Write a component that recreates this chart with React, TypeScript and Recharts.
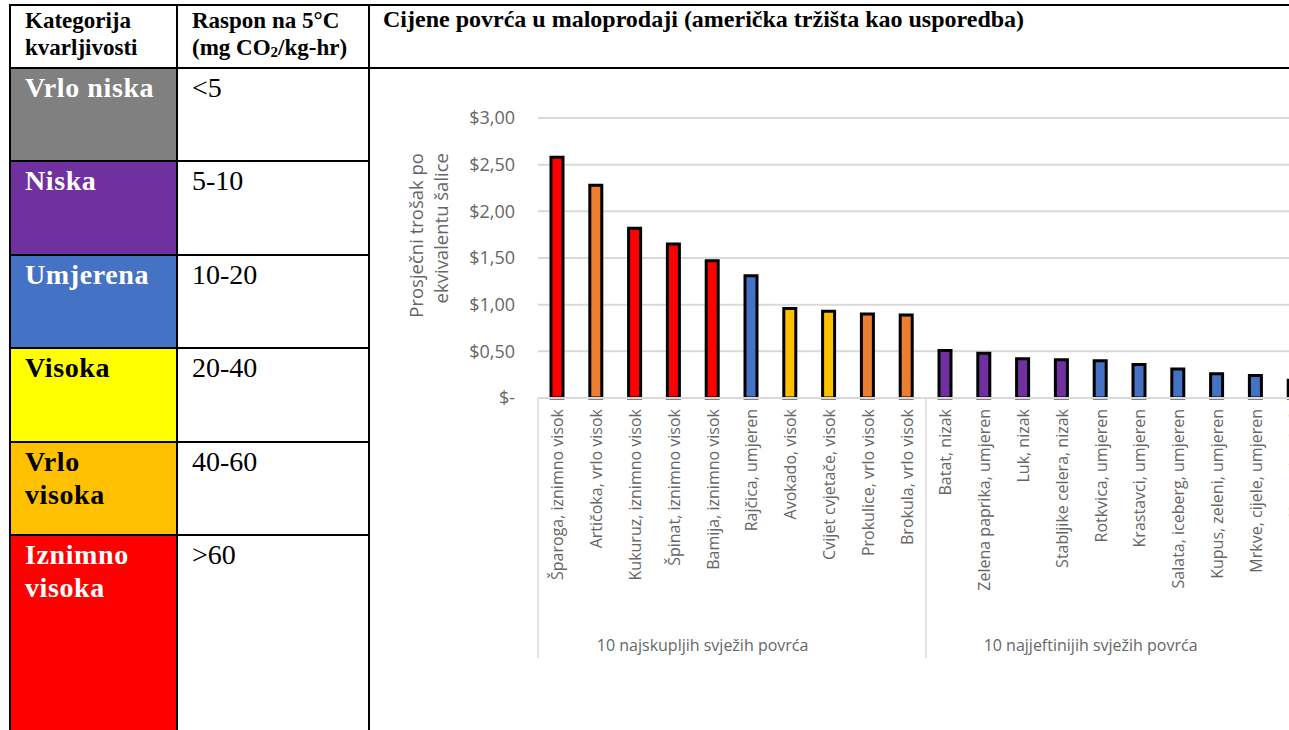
import React from "react";
import { BarChart, Bar, XAxis, YAxis, CartesianGrid, Cell } from "recharts";

// left table: perishability categories
const perishCategories = ["Vrlo niska", "Niska", "Umjerena", "Visoka", "Vrlo\nvisoka", "Iznimno\nvisoka"];
const perishRanges = ["<5", "5-10", "10-20", "20-40", "40-60", ">60"];
const perishFills = ["#808080", "#7030A0", "#4472C4", "#FFFF00", "#FFC000", "#FF0000"];
const perishTextColors = ["#ffffff", "#ffffff", "#ffffff", "#000000", "#000000", "#ffffff"];

// chart
const vegNames = [
  "Šparoga, iznimno visok",
  "Artičoka, vrlo visok",
  "Kukuruz, iznimno visok",
  "Špinat, iznimno visok",
  "Bamija, iznimno visok",
  "Rajčica, umjeren",
  "Avokado, visok",
  "Cvijet cvjetače, visok",
  "Prokulice, vrlo visok",
  "Brokula, vrlo visok",
  "Batat, nizak",
  "Zelena paprika, umjeren",
  "Luk, nizak",
  "Stabljike celera, nizak",
  "Rotkvica, umjeren",
  "Krastavci, umjeren",
  "Salata, iceberg, umjeren",
  "Kupus, zeleni, umjeren",
  "Mrkve, cijele, umjeren",
  "Krumpir, nizak",
];
const vegPrices = [2.58, 2.28, 1.82, 1.65, 1.47, 1.31, 0.96, 0.93, 0.9, 0.89, 0.51, 0.48, 0.42, 0.41, 0.4, 0.36, 0.31, 0.26, 0.24, 0.19];
const vegFills = [
  "#FF0000", "#ED7D31", "#FF0000", "#FF0000", "#FF0000",
  "#4472C4", "#FFC000", "#FFC000", "#ED7D31", "#ED7D31",
  "#7030A0", "#7030A0", "#7030A0", "#7030A0", "#4472C4",
  "#4472C4", "#4472C4", "#4472C4", "#4472C4", "#7030A0",
];
const vegGroups = ["10 najskupljih svježih povrća", "10 najjeftinijih svježih povrća"];
const groupSize = 10;
const priceTicks = [0, 0.5, 1, 1.5, 2, 2.5, 3];

const data = vegNames.map((name, i) => ({ name, price: vegPrices[i] }));

const SANS = "'Open Sans', sans-serif";
const SERIF = "'Liberation Serif', 'Times New Roman', serif";
const TXT = "#666666";
const GRID = "#d9d9d9";

const fmtPrice = (v: number) => (v === 0 ? "$-" : "$" + v.toFixed(2).replace(".", ","));

const CatTick = (props: any) => {
  const { x, y, payload, index } = props;
  const half = payload && payload.offset ? payload.offset : 19.4;
  const axisY = y - 8;
  const i = index ?? payload.index;
  return (
    <g>
      <text
        transform={`translate(${x},${axisY + 11}) rotate(-90)`}
        textAnchor="end"
        dominantBaseline="central"
        fill={TXT}
        fontSize={16}
        fontFamily={SANS}
      >
        {payload.value}
      </text>
      {i % groupSize === 0 && (
        <line x1={x - half} x2={x - half} y1={axisY} y2={axisY + 260} stroke={GRID} strokeWidth={1.5} />
      )}
      {i === vegNames.length - 1 && (
        <line x1={x + half} x2={x + half} y1={axisY} y2={axisY + 260} stroke={GRID} strokeWidth={1.5} />
      )}
      {i % groupSize === 4 && (
        <text
          x={x - 10}
          y={axisY + 247}
          textAnchor="middle"
          dominantBaseline="central"
          fill={TXT}
          fontSize={16}
          fontFamily={SANS}
        >
          {vegGroups[Math.floor(i / groupSize)]}
        </text>
      )}
    </g>
  );
};

// two-line rotated axis title
const YTitleLines = (props: any) => {
  const vb = props.viewBox || { x: 0, y: 18 };
  const top = vb.y + 35;
  return (
    <g>
      <text
        transform={`translate(${vb.x + 35},${top}) rotate(-90)`}
        textAnchor="end"
        dominantBaseline="central"
        fill={TXT}
        fontSize={18.5}
        fontFamily={SANS}
      >
        Prosječni trošak po
      </text>
      <text
        transform={`translate(${vb.x + 60},${top}) rotate(-90)`}
        textAnchor="end"
        dominantBaseline="central"
        fill={TXT}
        fontSize={18.5}
        fontFamily={SANS}
      >
        ekvivalentu šalice
      </text>
    </g>
  );
};

const hLine = (top: number, left: number, width: number, key: string) => (
  <div key={key} style={{ position: "absolute", top, left, width, height: 2, background: "#000" }} />
);
const vLine = (left: number, top: number, height: number, key: string) => (
  <div key={key} style={{ position: "absolute", top, left, width: 2, height, background: "#000" }} />
);

export default function App() {
  const rowH = 93.4;
  const firstRow = 69;
  return (
    <div
      style={{
        position: "absolute",
        left: 0,
        top: 0,
        width: 1289,
        height: 730,
        overflow: "hidden",
        background: "#fff",
        fontFamily: SERIF,
      }}
    >
      {perishCategories.map((c, i) => {
        const top = Math.round(firstRow + i * rowH);
        const bottom = i === perishCategories.length - 1 ? 730 : Math.round(firstRow + (i + 1) * rowH) - 2;
        return (
          <React.Fragment key={c}>
            <div
              style={{
                position: "absolute",
                left: 11,
                top,
                width: 165,
                height: bottom - top,
                background: perishFills[i],
              }}
            />
            <div
              style={{
                position: "absolute",
                left: 25,
                top: top + 2,
                fontSize: 28,
                lineHeight: "33px",
                fontWeight: "bold",
                letterSpacing: 0.6,
                whiteSpace: "pre",
                color: perishTextColors[i],
              }}
            >
              {c}
            </div>
            <div
              style={{
                position: "absolute",
                left: 192,
                top: top + 2,
                fontSize: 28,
                lineHeight: "33px",
                color: "#000",
              }}
            >
              {perishRanges[i]}
            </div>
            {i > 0 && hLine(top - 2, 9, 361, "r" + i)}
          </React.Fragment>
        );
      })}

      <div style={{ position: "absolute", left: 25, top: 7, fontSize: 23, lineHeight: "27px", fontWeight: "bold" }}>
        Kategorija
        <br />
        kvarljivosti
      </div>
      <div style={{ position: "absolute", left: 192, top: 7, fontSize: 23, lineHeight: "27px", fontWeight: "bold" }}>
        Raspon na 5°C
        <br />
        (mg CO<span style={{ fontSize: 15, position: "relative", top: 2 }}>2</span>/kg-hr)
      </div>
      <div style={{ position: "absolute", left: 383, top: 6, fontSize: 24, lineHeight: "27px", fontWeight: "bold" }}>
        Cijene povrća u maloprodaji (američka tržišta kao usporedba)
      </div>

      {hLine(4, 9, 1280, "top")}
      {hLine(67, 9, 1280, "head")}
      {vLine(9, 4, 726, "l")}
      {vLine(176, 4, 726, "c1")}
      {vLine(368, 4, 726, "c2")}

      <div style={{ position: "absolute", left: 380, top: 100 }}>
        <BarChart width={934} height={560} data={data} margin={{ top: 18, right: 0, left: 0, bottom: 0 }}>
          <CartesianGrid vertical={false} stroke={GRID} strokeWidth={2} />
          <XAxis
            dataKey="name"
            interval={0}
            height={262}
            axisLine={{ stroke: GRID, strokeWidth: 2 }}
            tickLine={false}
            tick={<CatTick />}
          />
          <YAxis
            width={158}
            domain={[0, 3]}
            ticks={priceTicks}
            axisLine={false}
            tickLine={false}
            tickSize={6}
            tickMargin={17}
            tickFormatter={fmtPrice}
            tick={{ fill: TXT, fontSize: 18, fontFamily: SANS }}
            label={{ content: (p: any) => <YTitleLines {...p} /> }}
          />
          <Bar dataKey="price" barSize={12} stroke="#000" strokeWidth={3} isAnimationActive={false}>
            {data.map((d, i) => (
              <Cell key={d.name} fill={vegFills[i]} />
            ))}
          </Bar>
        </BarChart>
      </div>
    </div>
  );
}
